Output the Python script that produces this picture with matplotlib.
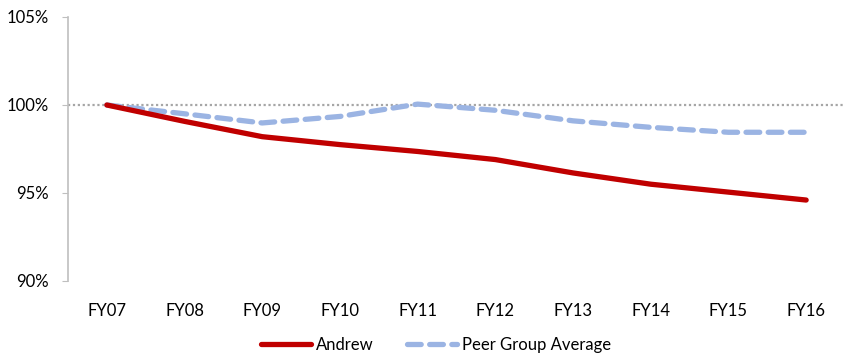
import matplotlib.pyplot as plt
import numpy as np

years = ['FY07', 'FY08', 'FY09', 'FY10', 'FY11', 'FY12', 'FY13', 'FY14', 'FY15', 'FY16']
andrew = [100.0, 99.07, 98.2, 97.75, 97.36, 96.9, 96.14, 95.5, 95.05, 94.6]
peer_avg = [100.0, 99.5, 98.98, 99.35, 100.05, 99.7, 99.1, 98.73, 98.45, 98.45]

plt.rcParams['font.family'] = ['Lato', 'DejaVu Sans']

fig = plt.figure(figsize=(8.47, 3.55), dpi=100)
ax = fig.add_axes([68 / 847, 1 - 281 / 355, (845 - 68) / 847, (281 - 17) / 355])

x = np.arange(len(years))
ax.axhline(100, color='#a6a6a6', linestyle=(0, (1, 1.2)), linewidth=1.6, zorder=1)
ax.plot(x, andrew, color='#c00000', linewidth=3.8, solid_capstyle='round',
        label='Andrew', zorder=3)
ax.plot(x, peer_avg, color='#9bb4e3', linewidth=3.8, linestyle=(0, (2.6, 1.6)),
        dash_capstyle='round', label='Peer Group Average', zorder=2)

ax.set_xlim(-0.5, 9.5)
ax.set_ylim(90, 105)
ax.set_yticks([90, 95, 100, 105])
ax.set_yticklabels(['90%', '95%', '100%', '105%'])
ax.set_xticks(x)
ax.set_xticklabels(years)

for s in ['top', 'right', 'bottom']:
    ax.spines[s].set_visible(False)
ax.spines['left'].set_color('#bfbfbf')
ax.spines['left'].set_linewidth(1.2)
ax.tick_params(axis='y', colors='#bfbfbf', labelcolor='black', length=4, labelsize=12, pad=10)
ax.tick_params(axis='x', length=0, labelsize=12, pad=16)

fig.legend(loc='center', bbox_to_anchor=(436 / 847, 1 - 345 / 355), ncol=2, frameon=False,
           fontsize=12, handlelength=3.0, columnspacing=2.0, handletextpad=0.3)

fig.savefig('out.png', dpi=100)
